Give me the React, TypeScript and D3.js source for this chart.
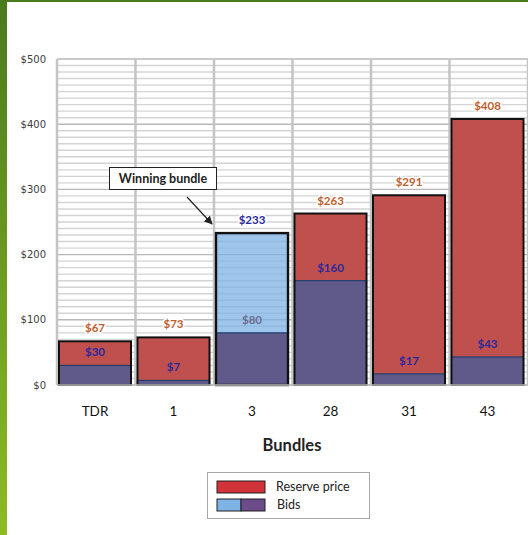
import * as d3 from "d3";

const bundles = ["TDR", "1", "3", "28", "31", "43"];
const reservePrices = [67, 73, 233, 263, 291, 408];
const bids = [30, 7, 80, 160, 17, 43];
const winningIndex = 2;
const yTicks = [0, 100, 200, 300, 400, 500];

const W = 528;
const H = 535;
const FONT = "Lato, 'Open Sans', sans-serif";

export default function App() {
  const x = d3.scaleBand<string>().domain(bundles).range([57, 528]).padding(0);
  const y = d3.scaleLinear().domain([0, 500]).range([385, 59]);
  const bw = x.bandwidth() - 6.5;
  const minor = d3.range(0, 501, 10);
  const fmt = (v: number) => `$${v}`;

  return (
    <svg
      width={W}
      height={H}
      style={{ position: "absolute", left: 0, top: 0, display: "block" }}
    >
      <defs>
        <linearGradient id="side" x1="0" y1="0" x2="0" y2="1">
          <stop offset="0" stopColor="#4b7a1f" />
          <stop offset="1" stopColor="#8dbb22" />
        </linearGradient>
        <marker id="arr" viewBox="0 0 10 10" refX="9" refY="5" markerWidth="7" markerHeight="7" orient="auto">
          <path d="M0,0 L10,5 L0,10 z" fill="#222" />
        </marker>
      </defs>
      <rect x={0} y={0} width={W} height={H} fill="#fff" />
      <rect x={0} y={0} width={W} height={2} fill="#4b7a1f" />
      <rect x={0} y={0} width={7} height={H} fill="url(#side)" />

      {/* grid */}
      {minor.map((v) => (
        <line
          key={v}
          x1={57}
          x2={528}
          y1={y(v)}
          y2={y(v)}
          stroke={v % 100 === 0 ? "#b8b8b8" : "#d4d4d4"}
          strokeWidth={1.4}
        />
      ))}
      {bundles.map((b) => (
        <line key={b} x1={x(b)!} x2={x(b)!} y1={59} y2={385} stroke="#c4c4c4" strokeWidth={2.5} />
      ))}
      <line x1={528} x2={528} y1={59} y2={385} stroke="#c4c4c4" strokeWidth={2.5} />

      {/* y ticks */}
      {yTicks.map((t) => (
        <text
          key={t}
          x={46}
          y={y(t)}
          dy="0.35em"
          textAnchor="end"
          fontFamily="'DejaVu Sans', sans-serif"
          fontSize={10}
          fill="#404040"
        >
          {fmt(t)}
        </text>
      ))}

      {/* bars */}
      {bundles.map((b, i) => {
        const bx = x(b)! + 2;
        const win = i === winningIndex;
        const top = y(reservePrices[i]);
        const bidTop = y(bids[i]);
        return (
          <g key={b}>
            <rect
              x={bx}
              y={top}
              width={bw}
              height={385 - top}
              fill={win ? "#7eb3e6" : "#c0504d"}
              fillOpacity={win ? 0.75 : 1}
            />
            <rect
              x={bx}
              y={bidTop}
              width={bw}
              height={385 - bidTop}
              fill="#605a8b"
              stroke="#1f3f6e"
              strokeWidth={1.2}
            />
            <rect
              x={bx}
              y={top}
              width={bw}
              height={385 - top}
              fill="none"
              stroke="#111"
              strokeWidth={win ? 2.4 : 2}
            />
            <text
              x={bx + bw / 2}
              y={top - 13}
              dy="0.35em"
              textAnchor="middle"
              fontFamily={FONT}
              fontWeight="bold"
              fontSize={11.5}
              fill={win ? "#2a2a9c" : "#c0602e"}
              stroke="#fff"
              strokeWidth={3}
              paintOrder="stroke"
            >
              {fmt(reservePrices[i])}
            </text>
            <text
              x={bx + bw / 2}
              y={bidTop - 13}
              dy="0.35em"
              textAnchor="middle"
              fontFamily={FONT}
              fontWeight="bold"
              fontSize={11.5}
              fill={win ? "#6b6d93" : "#2a2a9c"}
            >
              {fmt(bids[i])}
            </text>
          </g>
        );
      })}
      <line x1={57} x2={528} y1={385} y2={385} stroke="#bdbdbd" strokeWidth={1.5} />

      {/* x labels */}
      {bundles.map((b) => (
        <text
          key={b}
          x={x(b)! + 2 + bw / 2}
          y={411}
          dy="0.35em"
          textAnchor="middle"
          fontFamily={FONT}
          fontSize={13.5}
          fill="#111"
        >
          {b}
        </text>
      ))}
      <text x={292} y={445} dy="0.35em" textAnchor="middle" fontFamily={FONT} fontWeight="bold" fontSize={16.5} fill="#222">
        Bundles
      </text>

      {/* callout */}
      <rect x={109.5} y={167.5} width={107} height={22} fill="#fff" stroke="#222" strokeWidth={1} />
      <text x={163} y={178.5} dy="0.35em" textAnchor="middle" fontFamily={FONT} fontWeight="bold" fontSize={12.5} fill="#222">
        Winning bundle
      </text>
      <line x1={187} y1={197} x2={212} y2={224} stroke="#222" strokeWidth={1.2} markerEnd="url(#arr)" />

      {/* legend */}
      <rect x={207.5} y={472.5} width={162} height={46} fill="#fff" stroke="#a8a8a8" strokeWidth={1} />
      <rect x={217} y={481} width={48} height={12} fill="#d2323a" stroke="#222" strokeWidth={1} />
      <rect x={217} y={499} width={24} height={12} fill="#7eb3e6" stroke="#222" strokeWidth={1} />
      <rect x={241} y={499} width={24} height={12} fill="#6b4b88" stroke="#222" strokeWidth={1} />
      <text x={276} y={487} dy="0.35em" fontFamily={FONT} fontSize={12.5} fill="#222">
        Reserve price
      </text>
      <text x={277} y={505} dy="0.35em" fontFamily={FONT} fontSize={12.5} fill="#222">
        Bids
      </text>
    </svg>
  );
}
